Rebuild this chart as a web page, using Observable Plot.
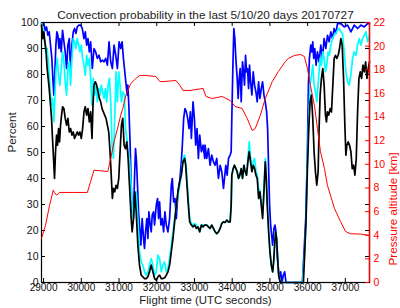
<!DOCTYPE html>
<html><head><meta charset="utf-8">
<script src="https://cdn.jsdelivr.net/npm/d3@7"></script>
<script src="https://cdn.jsdelivr.net/npm/@observablehq/plot@0.6"></script>
<style>
html,body{margin:0;padding:0;background:#fff;}
#wrap{position:relative;width:400px;height:308px;}
#wrap svg{position:absolute;left:0;top:0;}
</style></head><body><div id="wrap"></div>
<script>
// [flight time (UTC s), percent] — 20-day window (blue)
const blue20 = [[28945,99.6],[28962,99],[29007,99.6],[29042,97],[29078,98.3],[29113,95.1],[29149,96.4],[29184,91.3],[29219,86.2],[29246,78.5],[29273,72.1],[29299,81],[29326,91.3],[29352,96.4],[29379,95.1],[29406,90],[29432,93.8],[29468,88.7],[29503,97],[29539,92.6],[29574,88.7],[29610,82.3],[29645,91.3],[29681,93.8],[29716,81],[29752,91.3],[29787,96.4],[29822,97.7],[29858,95.8],[29893,98.3],[29938,99],[29982,99],[30026,97.7],[30071,93.8],[30106,96.4],[30142,91.3],[30177,93.8],[30213,88.7],[30248,92.6],[30292,82.3],[30337,90],[30381,88.7],[30425,86.2],[30470,87.4],[30514,84.9],[30558,85.5],[30603,84.9],[30647,86.2],[30691,83.6],[30736,92.6],[30780,84.9],[30824,82.3],[30869,91.3],[30913,87.4],[30957,82.3],[31002,92.6],[31046,90],[31082,92.6],[31117,86.2],[31144,82.3],[31189,75.9],[31215,72.1],[31233,75.9],[31260,68.2],[31295,52.8],[31322,37.4],[31348,27.2],[31384,24.6],[31410,40],[31437,51.5],[31464,46.4],[31490,37.4],[31517,27.2],[31543,22.1],[31579,14.4],[31614,24.6],[31650,16.9],[31676,13.1],[31703,19.5],[31738,24.6],[31765,16.9],[31792,27.2],[31827,22.1],[31854,19.5],[31880,25.9],[31916,27.2],[31942,22.1],[31987,29.7],[32022,32.3],[32049,24.6],[32075,31],[32111,22.1],[32146,24.6],[32182,19.5],[32217,27.2],[32253,22.1],[32297,19.5],[32341,24.6],[32386,37.4],[32412,40],[32448,31],[32483,32.3],[32519,24.6],[32563,34.9],[32607,38.7],[32652,46.4],[32678,52.8],[32714,63.1],[32749,66.9],[32785,65.6],[32820,63.1],[32856,59.2],[32891,65.6],[32918,55.4],[32962,69.5],[32998,63.1],[33033,52.8],[33068,59.2],[33104,47.7],[33139,56.7],[33184,50.3],[33228,52.8],[33272,47.7],[33281,52.8],[33325,47.7],[33370,51.5],[33414,45.1],[33458,49],[33503,46.4],[33547,45.1],[33591,47.7],[33636,40],[33680,45.1],[33724,42.6],[33769,36.2],[33795,40],[33831,45.1],[33866,41.3],[33902,47.7],[33946,49],[33973,50.3],[33990,63.1],[34017,82.3],[34044,97.7],[34070,93.8],[34097,86.2],[34132,78.5],[34159,70.8],[34185,78.5],[34212,82.3],[34239,69.5],[34274,84.9],[34301,81],[34327,75.9],[34354,87.4],[34380,81],[34407,82.3],[34434,74.6],[34460,83.6],[34487,77.2],[34522,72.1],[34558,81],[34593,75.9],[34629,73.3],[34664,69.5],[34700,77.2],[34735,70.8],[34771,74.6],[34806,77.2],[34842,72.1],[34877,69.5],[34913,65.6],[34939,59.2],[34966,43.8],[34992,29.7],[35019,22.1],[35046,18.2],[35072,14.4],[35108,20.8],[35134,22.1],[35161,19.5],[35187,11.8],[35214,6.7],[35249,1.5],[35285,4.1],[35320,0.3],[35356,2.8],[35391,4.1],[35427,0],[35861,0],[35905,11.8],[35950,24.6],[35994,50.3],[36021,75.9],[36047,86.2],[36083,91.3],[36109,88.7],[36136,92.6],[36162,86.2],[36189,90],[36225,83.6],[36260,88.7],[36304,84.9],[36349,91.3],[36393,86.2],[36437,93.8],[36482,90],[36526,95.1],[36570,92.6],[36615,96.4],[36659,93.8],[36703,97.7],[36748,95.8],[36792,99.6],[36881,99.6],[36969,98.3],[37058,99],[37147,96.4],[37235,99],[37324,97.7],[37413,99],[37501,98.3],[37590,99.6],[37640,99.6]];

// 10-day window (cyan)
const cyan10 = [[28945,99.6],[28962,98.3],[29007,96.4],[29051,88.7],[29095,90],[29140,82.3],[29166,75.9],[29202,68.2],[29237,70.8],[29273,61.8],[29299,70.8],[29326,81],[29361,86.2],[29397,79.7],[29432,75.9],[29468,82.3],[29503,88.7],[29539,84.9],[29574,77.2],[29610,72.1],[29645,82.3],[29681,84.9],[29716,75.9],[29752,86.2],[29787,93.8],[29822,92.6],[29858,90],[29893,93.8],[29929,91.3],[29964,88.7],[30000,91.3],[30035,86.2],[30071,83.6],[30106,79.7],[30142,87.4],[30177,83.6],[30213,86.2],[30248,78.5],[30284,68.2],[30319,78.5],[30354,72.1],[30390,75.9],[30425,69.5],[30461,74.6],[30496,72.1],[30532,75.9],[30567,73.3],[30603,70.8],[30638,74.6],[30674,69.5],[30709,75.9],[30745,78.5],[30780,69.5],[30816,52.8],[30851,47.7],[30886,63.1],[30922,81],[30957,69.5],[30993,81],[31028,75.9],[31064,69.5],[31100,73.3],[31144,72.1],[31171,59.2],[31206,55.4],[31242,50.3],[31277,47.7],[31322,37.4],[31366,24.6],[31410,29.7],[31455,34.9],[31499,24.6],[31543,11.8],[31588,7.9],[31632,6.7],[31676,4.1],[31721,2.8],[31765,4.1],[31809,6.7],[31854,9.2],[31898,6.7],[31942,2.8],[31987,4.1],[32031,10.5],[32075,9.2],[32120,4.1],[32164,6.7],[32208,7.9],[32253,4.1],[32297,5.4],[32341,9.2],[32386,14.4],[32430,19.5],[32474,24.6],[32519,29.7],[32563,33.6],[32607,37.4],[32652,41.3],[32696,47.7],[32740,49],[32785,43.8],[32829,33.6],[32873,24.6],[32918,22.7],[32962,22.1],[33006,22.7],[33051,22.1],[33095,20.8],[33139,19.5],[33184,22.1],[33228,22.1],[33272,22.1],[33325,22.1],[33370,21.4],[33414,20.8],[33458,22.1],[33503,20.8],[33547,19.5],[33591,18.8],[33636,19.5],[33680,20.8],[33724,22.7],[33769,23.3],[33813,23.1],[33857,24],[33902,23.3],[33946,23.3],[33973,29.7],[33990,41.3],[34026,43.8],[34061,45.1],[34097,43.8],[34132,42.6],[34168,40],[34203,41.3],[34239,43.8],[34274,40],[34310,45.1],[34345,42.6],[34380,41.3],[34416,47.7],[34451,54.1],[34487,48],[34522,44],[34558,46.4],[34593,47.7],[34629,43],[34664,41.3],[34700,36],[34735,35.5],[34771,31],[34806,26],[34842,36.2],[34877,47.7],[34904,41.3],[34930,30.5],[34966,20],[35001,12],[35037,6.7],[35072,4.1],[35099,7.9],[35125,14.4],[35152,19.5],[35179,16.9],[35205,9.2],[35232,2.8],[35276,0],[35861,0],[35923,11.8],[35959,24.6],[35994,47.7],[36030,63.1],[36065,75.9],[36100,79.7],[36136,83.6],[36171,75.9],[36207,73.3],[36242,69.5],[36278,75.9],[36304,81],[36331,86.2],[36366,83.6],[36402,88.7],[36437,86.2],[36473,81],[36508,83.6],[36544,88.7],[36579,87.4],[36615,91.3],[36659,93.8],[36703,95.1],[36748,95.8],[36792,97],[36836,97.7],[36881,96.4],[36925,95.8],[36969,88.7],[37014,81],[37058,77.2],[37102,75.9],[37147,79.7],[37191,86.2],[37235,88.7],[37280,87.4],[37324,91.3],[37368,93.8],[37413,91.3],[37457,93.8],[37501,95.1],[37546,96.4],[37590,92.6],[37640,95.1]];

// 5-day window (black)
const black5 = [[28945,99],[28980,93.8],[29007,96.4],[29033,92.6],[29060,90],[29095,82.3],[29122,78.5],[29149,74.6],[29184,68.2],[29211,63.1],[29237,55.4],[29264,47.7],[29290,40],[29317,50.3],[29344,56.7],[29370,52.8],[29397,59.2],[29423,54.1],[29450,60.5],[29477,64.4],[29503,67.6],[29539,66.9],[29574,63.1],[29610,60.5],[29645,63.1],[29681,57.9],[29716,59.2],[29752,56.7],[29787,57.9],[29822,55.4],[29858,56.7],[29893,57.9],[29929,56.7],[29964,57.9],[30000,55.4],[30035,59.2],[30071,65.6],[30106,67.6],[30142,64.4],[30177,66.9],[30213,61.8],[30248,65.6],[30284,55.4],[30310,68.2],[30337,75.9],[30372,77.2],[30408,75.9],[30443,73.3],[30479,70.8],[30514,69.5],[30550,66.9],[30585,65.6],[30620,64.4],[30656,63.1],[30691,60.5],[30727,57.9],[30762,50.3],[30798,40],[30824,32.3],[30851,36.2],[30886,34.9],[30922,37.4],[30957,36.2],[30993,40],[31028,50.3],[31064,60.5],[31099,63.1],[31135,52.8],[31171,51.5],[31206,54.1],[31242,47.7],[31277,37.4],[31322,24.6],[31348,19.5],[31384,24.6],[31419,34.9],[31455,27.2],[31499,14.4],[31543,6.7],[31588,2.8],[31632,2.2],[31676,1.5],[31721,1.5],[31765,2.2],[31809,4.1],[31854,6.7],[31898,4.1],[31942,1.5],[31987,0.9],[32031,2.2],[32075,2.8],[32120,1.5],[32164,1.5],[32208,1.8],[32253,2.8],[32297,4.1],[32341,6.7],[32386,11.8],[32430,16.9],[32474,23.3],[32519,29.7],[32563,34.9],[32607,38.7],[32652,41.3],[32696,46.4],[32740,47.7],[32767,45.1],[32802,37.4],[32838,29.7],[32873,23.3],[32918,22.1],[32962,21.4],[33006,22.1],[33051,20.8],[33095,21.4],[33139,19.5],[33184,22.1],[33228,21.4],[33272,22.1],[33325,22.1],[33370,21.4],[33414,20.8],[33458,22.1],[33503,20.8],[33547,19.5],[33591,18.8],[33636,19.5],[33680,20.8],[33724,22.7],[33769,23.3],[33813,23.1],[33857,24],[33902,23.3],[33946,23.3],[33973,29.7],[33990,41.3],[34026,43.8],[34061,45.1],[34097,43.8],[34132,42.6],[34168,40],[34203,41.3],[34239,43.8],[34274,40],[34310,45.1],[34345,42.6],[34380,41.3],[34416,46.4],[34451,50.3],[34487,46.4],[34522,42.6],[34558,45.1],[34593,43.8],[34629,41.3],[34664,40],[34700,32.3],[34735,34.9],[34771,29.7],[34806,24.6],[34842,34.9],[34877,46.4],[34904,40],[34930,29.7],[34966,19.5],[35001,11.8],[35037,6.7],[35072,4.1],[35099,7.9],[35125,14.4],[35152,19.5],[35179,16.9],[35205,9.2],[35232,2.8],[35276,0],[35888,0],[35923,11.8],[35959,24.6],[35994,43.8],[36030,59.2],[36065,69.5],[36100,72.1],[36136,63.1],[36171,50.3],[36207,42.6],[36242,37.4],[36278,42.6],[36304,59.2],[36331,72.1],[36366,78.5],[36402,82.3],[36437,75.9],[36473,64.4],[36499,61.8],[36526,65.6],[36561,64.4],[36597,66.9],[36632,65.6],[36668,75.9],[36703,86.2],[36739,87.4],[36774,86.2],[36810,87.4],[36845,90],[36881,93.8],[36916,91.3],[36952,78.5],[36987,60.5],[37014,49],[37040,52.8],[37076,54.1],[37111,52.8],[37147,50.3],[37182,43.8],[37218,45.1],[37253,41.3],[37289,47.7],[37324,65.6],[37360,78.5],[37395,81],[37430,78.5],[37466,83.6],[37501,81],[37537,84.9],[37572,78.5],[37608,82.3],[37640,84.9]];

// [flight time (UTC s), pressure altitude (km)] (red, right axis)
const altitudeKm = [[28945,3.72],[29051,4.82],[29158,6.52],[29256,7.81],[29291,7.62],[29344,7.39],[29424,7.62],[29800,7.62],[30161,7.62],[30248,8.55],[30336,9.5],[30520,9.45],[30701,9.39],[30780,10.49],[30868,11.9],[30958,13.0],[31046,14.16],[31100,14.72],[31179,15.82],[31312,16.84],[31445,17.26],[31552,17.52],[31712,17.52],[31977,17.43],[32084,17.0],[32164,17.0],[32509,17.09],[32616,16.67],[32696,16.25],[32882,16.25],[33228,16.42],[33307,15.74],[33467,15.57],[33733,15.74],[33946,15.4],[34079,14.89],[34265,14.72],[34398,13.88],[34531,12.86],[34611,13.03],[34744,14.13],[34877,15.57],[35063,17.0],[35223,17.85],[35409,18.7],[35489,18.95],[35648,19.21],[35808,19.29],[35914,19.12],[35994,18.11],[36074,16.67],[36180,14.98],[36260,13.03],[36340,11.08],[36446,9.65],[36526,8.21],[36712,6.26],[36872,5.16],[37005,4.32],[37138,4.12],[37404,4.1],[37590,4.0],[37640,3.95]];

const timeTicks = [29000,30000,31000,32000,33000,34000,35000,36000,37000];
const pctTicks = [0,10,20,30,40,50,60,70,80,90,100];
const kmTicks = [0,2,4,6,8,10,12,14,16,18,20,22];
const titleText = "Convection probability in the last 5/10/20 days 20170727";
const xLabel = "Flight time (UTC seconds)";
const yLabel = "Percent";
const y2Label = "Pressure altitude [km]";
const xDomain = [28945, 37640];

const font = "'Liberation Sans', Arial, Helvetica, sans-serif";
const common = {
  width: 400, height: 308,
  marginLeft: 41, marginRight: 31, marginTop: 22, marginBottom: 26,
  style: {fontFamily: font, fontSize: "10px", background: "transparent", color: "#000", overflow: "visible"}
};
const rows = a => a.map(([t, v]) => ({t, v}));

const leftPlot = Plot.plot({
  ...common,
  x: {domain: xDomain},
  y: {domain: [0, 100]},
  marks: [
    Plot.frame({stroke: "#000", strokeWidth: 1.2}),
    Plot.line(rows(blue20), {x: "t", y: "v", stroke: "#0000ff", strokeWidth: 1.7}),
    Plot.line(rows(cyan10), {x: "t", y: "v", stroke: "#00ffff", strokeWidth: 1.7}),
    Plot.line(rows(black5), {x: "t", y: "v", stroke: "#000000", strokeWidth: 1.7}),
    Plot.tickY(pctTicks, {y: d => d, insetRight: 324, stroke: "#000"}),
    Plot.tickY(pctTicks, {y: d => d, insetLeft: 324, stroke: "#000"}),
    Plot.tickX(timeTicks, {x: d => d, insetTop: 256, stroke: "#000"}),
    Plot.tickX(timeTicks, {x: d => d, insetBottom: 256, stroke: "#000"}),
    Plot.axisY(pctTicks, {tickSize: 0, tickPadding: 3, label: null, fill: "#111", fontSize: 10.5}),
    Plot.axisX(timeTicks, {tickSize: 0, tickPadding: 1, label: null, fill: "#111", fontSize: 10, tickFormat: d => String(d)}),
    Plot.text([titleText], {text: d => d, frameAnchor: "top", dy: -12, fontSize: 11.8, fill: "#222"}),
    Plot.text([xLabel], {text: d => d, frameAnchor: "bottom", dy: 21, fontSize: 11.4, fill: "#222"}),
    Plot.text([yLabel], {text: d => d, frameAnchor: "left", dx: -29, rotate: -90, fontSize: 11.7, fill: "#222"})
  ]
});

const rightPlot = Plot.plot({
  ...common,
  x: {domain: xDomain, axis: null},
  y: {domain: [0, 22]},
  marks: [
    Plot.line(rows(altitudeKm), {x: "t", y: "v", stroke: "#ff0000", strokeWidth: 1}),
    Plot.tickY(kmTicks, {y: d => d, insetLeft: 324, stroke: "#ff0000"}),
    Plot.ruleX([xDomain[1]], {stroke: "#ff0000", strokeWidth: 1.4}),
    Plot.axisY(kmTicks, {anchor: "right", tickSize: 0, tickPadding: 4, label: null, fill: "#ff0000", fontSize: 10.5}),
    Plot.text([y2Label], {text: d => d, frameAnchor: "right", dx: 24, rotate: -90, fontSize: 11.7, fill: "#ff0000"})
  ]
});

const wrap = document.getElementById("wrap");
wrap.appendChild(leftPlot);
wrap.appendChild(rightPlot);
</script>
</body></html>
